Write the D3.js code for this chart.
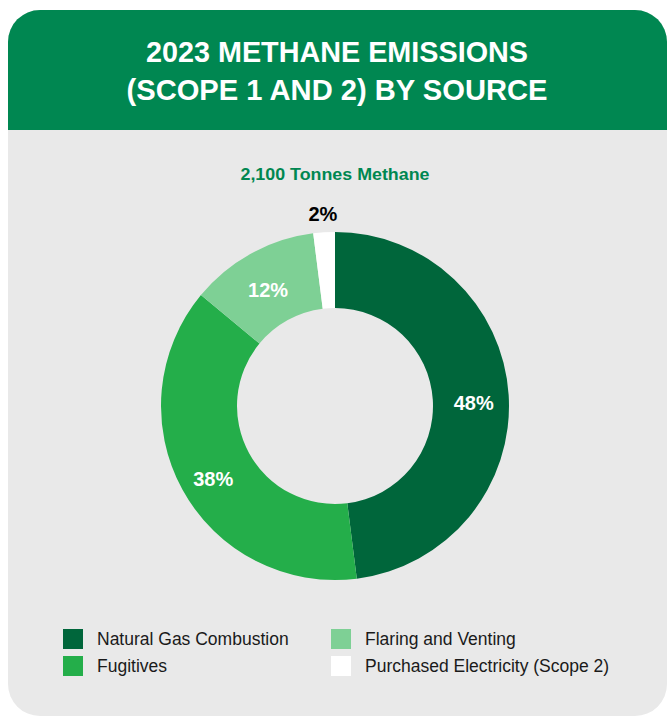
<!DOCTYPE html>
<html>
<head>
<meta charset="utf-8">
<script src="https://cdn.jsdelivr.net/npm/d3@7"></script>
<style>
  html, body { margin: 0; padding: 0; background: #ffffff; }
  svg { display: block; font-family: "Liberation Sans", Arial, sans-serif; }
</style>
</head>
<body>
<svg id="chart" width="670" height="717"></svg>
<script>
const titleLines = ["2023 METHANE EMISSIONS", "(SCOPE 1 AND 2) BY SOURCE"];
const subtitle = "2,100 Tonnes Methane";
const categories = ["Natural Gas Combustion", "Fugitives", "Flaring and Venting", "Purchased Electricity (Scope 2)"];
const values = [48, 38, 12, 2];
const colors = ["#00663b", "#24ae4a", "#7ed095", "#ffffff"];
const labelColors = ["#ffffff", "#ffffff", "#ffffff", "#000000"];

const svg = d3.select("#chart");
const cardX = 8, cardY = 10, cardW = 659, cardH = 706, rad = 32, headH = 120;

// card body
svg.append("rect").attr("x", cardX).attr("y", cardY).attr("width", cardW).attr("height", cardH)
  .attr("rx", rad).attr("ry", rad).attr("fill", "#e9e9e9");
// header with rounded top corners
const hp = d3.path();
hp.moveTo(cardX, cardY + headH);
hp.lineTo(cardX, cardY + rad);
hp.arcTo(cardX, cardY, cardX + rad, cardY, rad);
hp.lineTo(cardX + cardW - rad, cardY);
hp.arcTo(cardX + cardW, cardY, cardX + cardW, cardY + rad, rad);
hp.lineTo(cardX + cardW, cardY + headH);
hp.closePath();
svg.append("path").attr("d", hp.toString()).attr("fill", "#008751");

const titleWidths = [382, 421];
svg.selectAll("text.title").data(titleLines).join("text")
  .attr("class", "title")
  .attr("x", 337).attr("y", (d, i) => 62 + i * 38)
  .attr("text-anchor", "middle")
  .attr("font-size", 30).attr("font-weight", "bold").attr("fill", "#ffffff")
  .attr("textLength", (d, i) => titleWidths[i]).attr("lengthAdjust", "spacingAndGlyphs")
  .text(d => d);

svg.append("text").attr("x", 335).attr("y", 180).attr("text-anchor", "middle")
  .attr("font-size", 17).attr("font-weight", "bold").attr("fill", "#008751")
  .attr("textLength", 189).attr("lengthAdjust", "spacingAndGlyphs")
  .text(subtitle);

// donut
const cx = 335, cy = 406, rOuter = 174, rInner = 98;
const data = categories.map((c, i) => ({ name: c, value: values[i], color: colors[i], lc: labelColors[i] }));
const pie = d3.pie().value(d => d.value).sort(null);
const arcs = pie(data);
const arc = d3.arc().innerRadius(rInner).outerRadius(rOuter);
const g = svg.append("g").attr("transform", `translate(${cx},${cy})`);
g.selectAll("path").data(arcs).join("path").attr("d", arc).attr("fill", d => d.data.color);

const labelArc = d3.arc().innerRadius(139).outerRadius(139);
const outerLabelArc = d3.arc().innerRadius(193).outerRadius(193);
g.selectAll("text.lbl").data(arcs).join("text")
  .attr("class", "lbl")
  .attr("transform", (d, i) => {
    const p = i === 3 ? outerLabelArc.centroid(d) : labelArc.centroid(d);
    return `translate(${p[0]},${p[1] + (i === 3 ? 0 : 6)})`;
  })
  .attr("text-anchor", "middle").attr("dy", "0.36em")
  .attr("font-size", 20).attr("font-weight", "bold")
  .attr("fill", d => d.data.lc)
  .text(d => d.data.value + "%");

// legend
const legPos = [[63, 629], [63, 656], [331, 629], [331, 656]];
const lg = svg.append("g");
const items = lg.selectAll("g").data(data).join("g")
  .attr("transform", (d, i) => `translate(${legPos[i][0]},${legPos[i][1]})`);
items.append("rect").attr("width", 20).attr("height", 20).attr("fill", d => d.color);
items.append("text").attr("x", 34).attr("y", 16).attr("font-size", 17.5).attr("fill", "#1a1a1a")
  .text(d => d.name);
</script>
</body>
</html>
